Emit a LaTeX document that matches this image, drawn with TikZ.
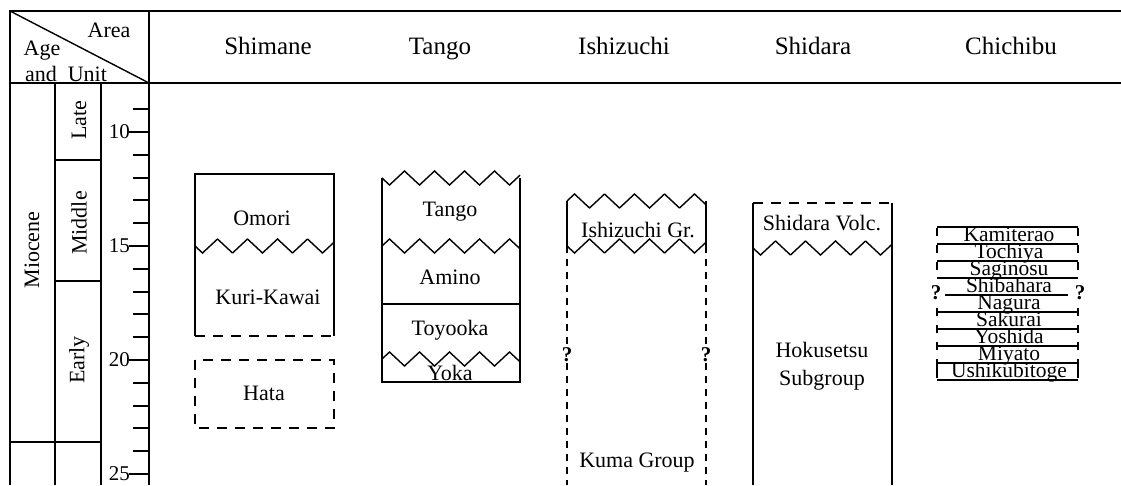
\documentclass[tikz,border=0pt]{standalone}
\usepackage{fontspec}
\setmainfont{Liberation Serif}

\begin{document}
\begin{tikzpicture}[x=1pt,y=-1pt,
  border/.style={line width=2.6pt},
  colline/.style={line width=2pt},
  unitline/.style={line width=1.4pt},
  bedline/.style={line width=1.2pt},
  brk/.style={unitline, dash pattern=on 10pt off 8pt},
  dashside/.style={unitline, dash pattern=on 7pt off 6pt},
  zig/.style={unitline, samples=240},
  lbl/.style={font=\fontsize{22}{24}\selectfont, inner sep=0pt},
  headlbl/.style={font=\fontsize{25}{27}\selectfont, inner sep=0pt, anchor=base},
  numlbl/.style={font=\fontsize{21}{23}\selectfont, inner sep=0pt},
  bedlbl/.style={font=\fontsize{21.5}{23}\selectfont, inner sep=0pt},
  qmark/.style={font=\fontsize{21}{23}\selectfont\bfseries, inner sep=1pt, fill=white}]

\useasboundingbox (0,0) rectangle (1121,485);

% frame and header
\draw [border] (10,485)--(10,11)--(1121,11);
\draw [border] (10,83)--(1121,83);
\draw [colline] (149,11)--(149,485);
\draw [colline] (55,83)--(55,485);
\draw [colline] (101,83)--(101,485);
\draw [unitline] (10,11)--(149,83);

\node [lbl] (area) at (109,30) {Area};
\node [lbl] (age) at (42,51) {Age};
\node [lbl] (andunit) at (66,74) {and\ \ Unit};

\node [headlbl] (shimane) at (268,54) {Shimane};
\node [headlbl] (tango) at (440,54) {Tango};
\node [headlbl] (ishizuchi) at (624,54) {Ishizuchi};
\node [headlbl] (shidara) at (813,54) {Shidara};
\node [headlbl] (chichibu) at (1011,54) {Chichibu};

% epochs
\draw [unitline] (55,160)--(101,160);
\draw [unitline] (55,281)--(101,281);
\draw [unitline] (10,442)--(101,442);

\node [lbl, rotate=90] (miocene) at (32,250) {Miocene};
\node [lbl, rotate=90] (late) at (79,120) {Late};
\node [lbl, rotate=90] (middle) at (79,223) {Middle};
\node [lbl, rotate=90] (early) at (79,360) {Early};

% time scale
\foreach \t in {9,...,25}
  \draw [colline] (133,{132+22.8*(\t-10)})--(149,{132+22.8*(\t-10)});
\foreach \t in {10,15,20,25} {
  \draw [colline] (129,{132+22.8*(\t-10)})--(149,{132+22.8*(\t-10)});
  \node [numlbl, anchor=east] (num\t) at (130,{132+22.8*(\t-10)}) {\t};
}

% Shimane
\draw [unitline] (195,336)--(195,174)--(334,174)--(334,336);
\draw [brk] (195,336)--(334,336);
\draw [zig, domain=195:334] plot (\x,{246+7*asin(sin(12*(\x-195)))/90});
\node [lbl] (omori) at (262,218) {Omori};
\node [lbl] (kurikawai) at (268,297) {Kuri-Kawai};
\draw [brk] (195,360) rectangle (334,428);
\node [lbl] (hata) at (264,393) {Hata};

% Tango
\draw [unitline] (382,178)--(382,382)--(520,382)--(520,178);
\draw [unitline] (382,304)--(520,304);
\draw [zig, domain=382:520] plot (\x,{178+7*asin(sin(12*(\x-382)))/90});
\draw [zig, domain=382:520] plot (\x,{246-7*asin(sin(12*(\x-382)))/90});
\draw [zig, domain=382:520] plot (\x,{359-7*asin(sin(12*(\x-382)))/90});
\node [lbl] (tangofm) at (450,212) {Tango};
\node [lbl] (amino) at (450,277) {Amino};
\node [lbl] (toyooka) at (450,330) {Toyooka};
\node [lbl] (yoka) at (450,373) {Yoka};

% Ishizuchi
\draw [unitline] (567,201)--(567,246);
\draw [unitline] (706,201)--(706,246);
\draw [dashside] (567,246)--(567,485);
\draw [dashside] (706,246)--(706,485);
\draw [zig, domain=567:706] plot (\x,{201-7*asin(sin(12*(\x-567)))/90});
\draw [zig, domain=567:706] plot (\x,{246+7*asin(sin(12*(\x-567)))/90});
\node [lbl] (ishizuchigr) at (638,230) {Ishizuchi Gr.};
\node [qmark] (qleft) at (567,355) {?};
\node [qmark] (qright) at (706,355) {?};
\node [lbl] (kuma) at (637,463) {Kuma Group};

% Shidara
\draw [brk] (753,203)--(892,203);
\draw [unitline] (753,203)--(753,485);
\draw [unitline] (892,203)--(892,485);
\draw [zig, domain=753:892] plot (\x,{248+7*asin(sin(12*(\x-753)))/90});
\node [lbl] (shidaravolc) at (822,223) {Shidara Volc.};
\node [lbl] (hokusetsu) at (822,350) {Hokusetsu};
\node [lbl] (subgroup) at (822,380) {Subgroup};

% Chichibu
\foreach \i in {0,1,2,3,5,6,7,8,9}
  \draw [bedline] (937,{227+17*\i})--(1078,{227+17*\i});
\draw [bedline] (945,295)--(1068,295);
\foreach \i in {0,1,2} {
  \draw [bedline] (937,{228+17*\i})--(937,{236+17*\i});
  \draw [bedline] (1078,{228+17*\i})--(1078,{236+17*\i});
}
\foreach \i in {5,...,8} {
  \draw [bedline] (937,{223+17*\i})--(937,{231+17*\i});
  \draw [bedline] (1078,{223+17*\i})--(1078,{231+17*\i});
}
\draw [bedline] (937,366)--(937,378);
\draw [bedline] (1078,366)--(1078,378);
\foreach \name [count=\i] in {Kamiterao,Tochiya,Saginosu,Shibahara,Nagura,Sakurai,Yoshida,Miyato,Ushikubitoge}
  \node [bedlbl, anchor=base] (chi\i) at (1009,{224+17*\i}) {\name};
\node [qmark, fill=none] (qchil) at (936,293) {?};
\node [qmark, fill=none] (qchir) at (1080,293) {?};

\end{tikzpicture}
\end{document}
